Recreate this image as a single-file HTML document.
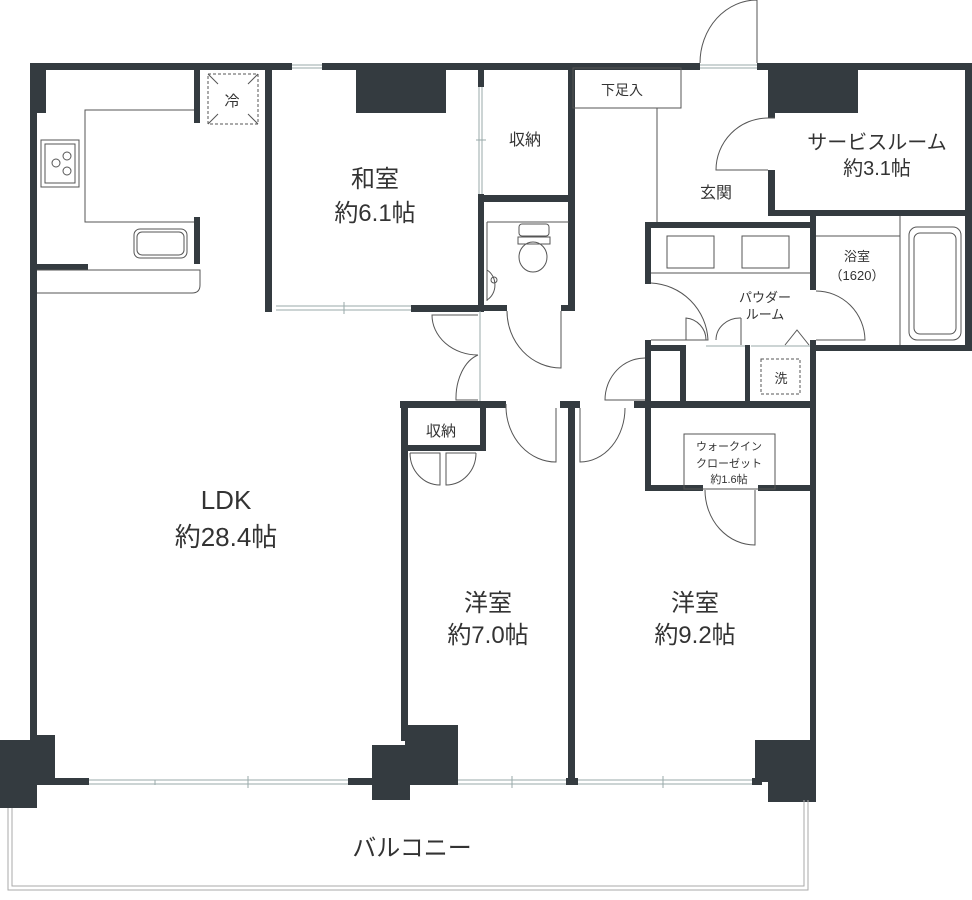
<!DOCTYPE html>
<html><head><meta charset="utf-8"><style>
html,body{margin:0;padding:0;background:#fff;}
svg{display:block;}
text{font-family:"Liberation Sans","Noto Sans CJK JP",sans-serif;fill:#333;text-anchor:middle;}
</style></head><body>
<svg width="972" height="900" viewBox="0 0 972 900" xmlns="http://www.w3.org/2000/svg">
<g fill="#343b40">
<!-- outer top wall -->
<rect x="30" y="63" width="262" height="7"/>
<rect x="322" y="63" width="378" height="7"/>
<rect x="757" y="63" width="215" height="7"/>
<!-- left wall -->
<rect x="30" y="63" width="7" height="680"/>
<rect x="30" y="63" width="16" height="50"/>
<!-- kitchen stubs -->
<rect x="194" y="63" width="6" height="60"/>
<rect x="194" y="217" width="6" height="47"/>
<rect x="34" y="264" width="54" height="6"/>
<!-- 和室 walls -->
<rect x="265" y="63" width="7" height="249"/>
<rect x="356" y="67" width="90" height="46"/>
<rect x="411" y="305" width="72" height="7"/>
<rect x="478" y="63" width="6" height="24"/>
<rect x="478" y="194" width="6" height="118"/>
<!-- 収納/toilet -->
<rect x="568" y="63" width="7" height="248"/>
<rect x="483" y="195" width="90" height="7"/>
<rect x="483" y="305" width="24" height="6"/>
<rect x="561" y="305" width="14" height="6"/>
<!-- service room -->
<rect x="768" y="63" width="7" height="55"/>
<rect x="768" y="170" width="7" height="46"/>
<rect x="768" y="68" width="90" height="45"/>
<rect x="768" y="210" width="204" height="6"/>
<rect x="965" y="63" width="7" height="288"/>
<!-- powder / bath -->
<rect x="645" y="222" width="170" height="6"/>
<rect x="645" y="222" width="6" height="62"/>
<rect x="645" y="340" width="6" height="65"/>
<rect x="810" y="216" width="6" height="74"/>
<rect x="810" y="340" width="6" height="65"/>
<rect x="645" y="345" width="40" height="6"/>
<rect x="810" y="345" width="162" height="6"/>
<rect x="680" y="345" width="6" height="60"/>
<rect x="745" y="345" width="5" height="60"/>
<!-- lower horizontal -->
<rect x="400" y="401" width="106" height="7"/>
<rect x="560" y="401" width="20" height="7"/>
<rect x="634" y="401" width="182" height="7"/>
<rect x="401" y="401" width="7" height="340"/>
<rect x="568" y="401" width="7" height="380"/>
<rect x="810" y="401" width="6" height="355"/>
<rect x="480" y="401" width="6" height="50"/>
<rect x="407" y="445" width="79" height="6"/>
<rect x="645" y="401" width="6" height="90"/>
<rect x="645" y="485" width="58" height="6"/>
<rect x="758" y="485" width="58" height="6"/>
<!-- bottom wall & pillars -->
<rect x="37" y="778" width="52" height="7"/>
<rect x="348" y="778" width="26" height="7"/>
<rect x="450" y="778" width="8" height="7"/>
<rect x="566" y="778" width="12" height="7"/>
<rect x="752" y="778" width="10" height="7"/>
<rect x="0" y="740" width="37" height="68"/>
<rect x="30" y="735" width="25" height="45"/>
<rect x="372" y="745" width="38" height="55"/>
<rect x="405" y="725" width="53" height="60"/>
<rect x="755" y="740" width="61" height="42"/>
<rect x="768" y="778" width="48" height="24"/>
</g>
<g fill="none" stroke="#555" stroke-width="1">
<!-- kitchen -->
<polyline points="194,110 85,110 85,222 194,222"/>
<rect x="41" y="140" width="38" height="47"/>
<rect x="45" y="144" width="30" height="39"/>
<circle cx="56" cy="163" r="4"/><circle cx="67" cy="156" r="4"/><circle cx="67" cy="171" r="4"/>
<rect x="134" y="229" width="53" height="29" rx="6"/>
<rect x="137" y="232" width="47" height="23" rx="5"/>
<path d="M37,270 H200 V285 Q200,293 192,293 H37"/>
<rect x="208" y="74" width="50" height="50" stroke-dasharray="3,2"/>
<path d="M208,74 L218,84 M258,74 L248,84 M208,124 L218,114 M258,124 L248,114"/>
<!-- windows -->
<path d="M292,65 H322 M292,68 H322" stroke="#9aa"/>
<path d="M276,306 H411 M276,310 H411 M344,302 V314" stroke="#9aa"/>
<path d="M479,87 V194 M482,87 V194 M476,140 H486" stroke="#9aa"/>
<path d="M89,780 H348 M89,784 H348 M155,780 V785 M248,776 V788" stroke="#9aa"/>
<path d="M458,780 H566 M458,784 H566 M512,776 V788" stroke="#9aa"/>
<path d="M578,780 H752 M578,784 H752 M663,776 V788" stroke="#9aa"/>
<!-- balcony -->
<path d="M8,808 V890 H808 V800 M12,808 V886 H804 V800" stroke="#aaa"/>
<!-- 下足入 / 玄関 -->
<rect x="573" y="68" width="108" height="40"/>
<line x1="657" y1="108" x2="657" y2="222"/>
<!-- entry door -->
<path d="M757,0 V63 M757,0 A57,63 0 0 0 700,63"/>
<path d="M700,65 H757 M700,68 H757" stroke="#9aa"/>
<!-- service door -->
<path d="M768,118 H775 M768,118 A52,52 0 0 0 716,170 H768"/>
<!-- toilet -->
<path d="M487,222 H569 M487,222 V301 M487,270 A15,17 0 0 1 487,300"/>
<rect x="519" y="224" width="30" height="12" rx="3"/>
<rect x="518" y="237" width="32" height="7"/>
<ellipse cx="533" cy="257" rx="14" ry="15"/>
<circle cx="494" cy="280" r="3"/>
<!-- toilet door -->
<path d="M561,311 V368 A54,57 0 0 1 507,311"/>
<!-- LDK doors -->
<path d="M478,315 H432 A46,40 0 0 0 478,355"/>
<path d="M478,400 H456 A30,45 0 0 1 478,355"/>
<line x1="480" y1="311" x2="480" y2="401" stroke="#9aa"/>
<!-- powder -->
<rect x="667" y="236" width="47" height="32"/>
<rect x="742" y="236" width="47" height="32"/>
<line x1="651" y1="273" x2="810" y2="273"/>
<path d="M651,283 A60,60 0 0 1 708,340 H651"/>
<path d="M686,318 A22,22 0 0 1 706,340 H686 Z"/>
<path d="M741,318 A24,22 0 0 0 716,340 M741,318 V345"/>
<path d="M816,291 A49,50 0 0 1 865,340 H816"/>
<path d="M785,345 L797,330 L809,345"/>
<path d="M706,346 H745 M751,346 H810" stroke="#9aa"/>
<!-- bath -->
<line x1="816" y1="236" x2="900" y2="236"/>
<line x1="900" y1="216" x2="900" y2="345"/>
<rect x="909" y="227" width="52" height="113" rx="8"/>
<rect x="914" y="233" width="42" height="101" rx="6"/>
<!-- small room doors & 洗 -->
<path d="M645,358 A40,42 0 0 0 605,400 H645"/>
<rect x="761" y="359" width="39" height="35" stroke-dasharray="3,2"/>
<!-- lower doors -->
<path d="M506,404 V408 M506,408 A50,56 0 0 0 556,462 V408"/>
<path d="M580,408 V462 A45,54 0 0 0 625,408"/>
<path d="M410,453 H440 V485 A30,32 0 0 1 410,453"/>
<path d="M476,453 H446 V485 A30,32 0 0 0 476,453"/>
<rect x="684" y="434" width="91" height="55"/>
<path d="M705,490 A50,55 0 0 0 755,545 V490"/>
</g>
<text x="232" y="106" font-size="15">冷</text>
<text x="375" y="187" font-size="24">和室</text>
<text x="375" y="221" font-size="24">約6.1帖</text>
<text x="525" y="145" font-size="16">収納</text>
<text x="622" y="95" font-size="14">下足入</text>
<text x="877" y="149" font-size="20">サービスルーム</text>
<text x="877" y="175" font-size="20">約3.1帖</text>
<text x="716" y="198" font-size="16">玄関</text>
<text x="857" y="261" font-size="13">浴室</text>
<text x="857" y="280" font-size="13">（1620）</text>
<text x="765" y="302" font-size="13">パウダー</text>
<text x="765" y="319" font-size="13">ルーム</text>
<text x="781" y="383" font-size="13">洗</text>
<text x="441" y="436" font-size="15">収納</text>
<text x="729" y="450" font-size="11">ウォークイン</text>
<text x="729" y="467" font-size="11">クローゼット</text>
<text x="729" y="483" font-size="11">約1.6帖</text>
<text x="226" y="509" font-size="26">LDK</text>
<text x="226" y="546" font-size="26">約28.4帖</text>
<text x="488" y="611" font-size="24">洋室</text>
<text x="488" y="643" font-size="24">約7.0帖</text>
<text x="695" y="611" font-size="24">洋室</text>
<text x="695" y="643" font-size="24">約9.2帖</text>
<text x="412" y="856" font-size="24">バルコニー</text>
</svg>
</body></html>
